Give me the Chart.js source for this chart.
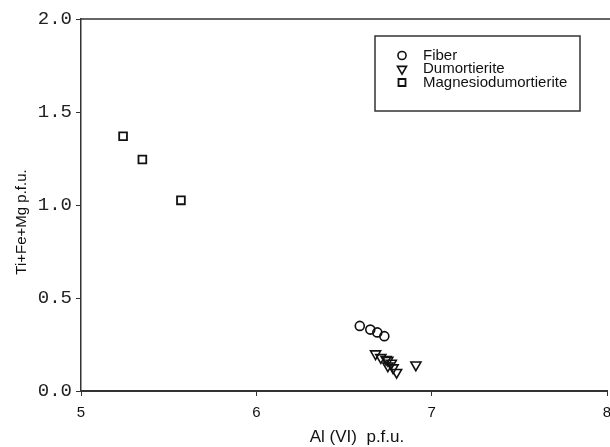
<!DOCTYPE html>
<html>
<head>
<meta charset="utf-8">
<script src="https://cdn.jsdelivr.net/npm/chart.js@4"></script>
<style>
  html, body { margin: 0; padding: 0; background: #fff; }
  #wrap { width: 610px; height: 447px; }
</style>
</head>
<body>
<div id="wrap"><canvas id="chart" width="610" height="447"></canvas></div>
<script>
// values
const fiberX = [6.59, 6.65, 6.69, 6.73];
const fiberY = [0.35, 0.33, 0.315, 0.295];

const dumortX = [6.68, 6.71, 6.74, 6.75, 6.77, 6.75, 6.78, 6.80, 6.91];
const dumortY = [0.20, 0.18, 0.17, 0.165, 0.15, 0.135, 0.125, 0.10, 0.14];

const magnesioX = [5.24, 5.35, 5.57];
const magnesioY = [1.37, 1.245, 1.025];

const seriesNames = ['Fiber', 'Dumortierite', 'Magnesiodumortierite'];
const xTicks = [5, 6, 7, 8];
const yTicks = [0.0, 0.5, 1.0, 1.5, 2.0];

const xTitle = 'Al (VI)  p.f.u.';
const yTitle = 'Ti+Fe+Mg p.f.u.';

function toPoints(xs, ys) {
    return xs.map((x, i) => ({ x: x, y: ys[i] }));
}

const ink = '#111';
const axisColor = '#333';

const frameAndText = {
    id: 'frameAndText',
    afterDraw(chart) {
        const { ctx, chartArea } = chart;
        ctx.save();

        // top border of the plot
        ctx.strokeStyle = axisColor;
        ctx.lineWidth = 1.5;
        ctx.beginPath();
        ctx.moveTo(chartArea.left, chartArea.top);
        ctx.lineTo(chart.width, chartArea.top);
        ctx.stroke();

        // axis titles
        ctx.fillStyle = ink;
        ctx.textAlign = 'center';
        ctx.textBaseline = 'middle';
        ctx.font = '17px "Liberation Sans", Arial, sans-serif';
        ctx.fillText(xTitle, 357, 437);
        ctx.save();
        ctx.font = '15px "Liberation Sans", Arial, sans-serif';
        ctx.translate(22, 222);
        ctx.rotate(-Math.PI / 2);
        ctx.fillText(yTitle, 0, 0);
        ctx.restore();

        // legend box
        const lx = 375, ly = 36, lw = 205, lh = 75;
        ctx.fillStyle = '#fff';
        ctx.fillRect(lx, ly, lw, lh);
        ctx.strokeStyle = axisColor;
        ctx.lineWidth = 1.5;
        ctx.strokeRect(lx, ly, lw, lh);

        ctx.textAlign = 'left';
        ctx.font = '15px "Liberation Sans", Arial, sans-serif';
        chart.data.datasets.forEach((ds, i) => {
            const yy = 55.5 + i * 13.5;
            ctx.fillStyle = 'rgba(0,0,0,0)';
            ctx.strokeStyle = ink;
            ctx.lineWidth = ds.borderWidth;
            Chart.helpers.drawPoint(ctx, {
                pointStyle: ds.pointStyle,
                radius: ds.pointRadius * 0.9,
                rotation: ds.pointRotation || 0,
                borderWidth: ds.borderWidth
            }, 402, yy);
            ctx.fillStyle = ink;
            ctx.fillText(ds.label, 423, yy);
        });

        ctx.restore();
    }
};

new Chart(document.getElementById('chart'), {
    type: 'scatter',
    data: {
        datasets: [
            {
                label: seriesNames[0],
                data: toPoints(fiberX, fiberY),
                pointStyle: 'circle',
                pointRadius: 4.5,
                borderWidth: 1.6,
                borderColor: ink,
                backgroundColor: 'transparent',
            },
            {
                label: seriesNames[1],
                data: toPoints(dumortX, dumortY),
                pointStyle: 'triangle',
                pointRotation: 180,
                pointRadius: 5.8,
                borderWidth: 1.6,
                borderColor: ink,
                backgroundColor: 'transparent',
            },
            {
                label: seriesNames[2],
                data: toPoints(magnesioX, magnesioY),
                pointStyle: 'rect',
                pointRadius: 5.5,
                borderWidth: 1.8,
                borderColor: ink,
                backgroundColor: 'transparent',
            },
        ],
    },
    options: {
        responsive: false,
        animation: false,
        layout: { autoPadding: false, padding: { top: 19, right: 3, left: 0, bottom: 0 } },
        scales: {
            x: {
                type: 'linear',
                min: 5,
                max: 8,
                afterBuildTicks: (scale) => { scale.ticks = xTicks.map(v => ({ value: v })); },
                afterFit: (scale) => {
                    scale.height = 56;
                    scale.paddingLeft = 0;
                    scale.paddingRight = 0;
                },
                border: { display: true, color: axisColor, width: 2 },
                grid: { drawOnChartArea: false, drawTicks: true, tickLength: 5, color: axisColor, lineWidth: 1 },
                ticks: {
                    color: ink,
                    padding: 8,
                    maxRotation: 0,
                    font: { family: '"Liberation Sans", Arial, sans-serif', size: 15 },
                    callback: (v) => String(v),
                },
            },
            y: {
                type: 'linear',
                min: 0,
                max: 2,
                afterBuildTicks: (scale) => { scale.ticks = yTicks.map(v => ({ value: v })); },
                afterFit: (scale) => {
                    scale.width = 81;
                    scale.paddingTop = 0;
                    scale.paddingBottom = 0;
                },
                border: { display: true, color: axisColor, width: 1.5 },
                grid: { drawOnChartArea: false, drawTicks: true, tickLength: 5, color: axisColor, lineWidth: 1 },
                ticks: {
                    color: '#222',
                    padding: 4,
                    font: { family: '"Liberation Mono", "Courier New", monospace', size: 19 },
                    callback: (v) => Number(v).toFixed(1),
                },
            },
        },
        plugins: {
            legend: { display: false },
            tooltip: { enabled: false },
        },
    },
    plugins: [frameAndText],
});
</script>
</body>
</html>
